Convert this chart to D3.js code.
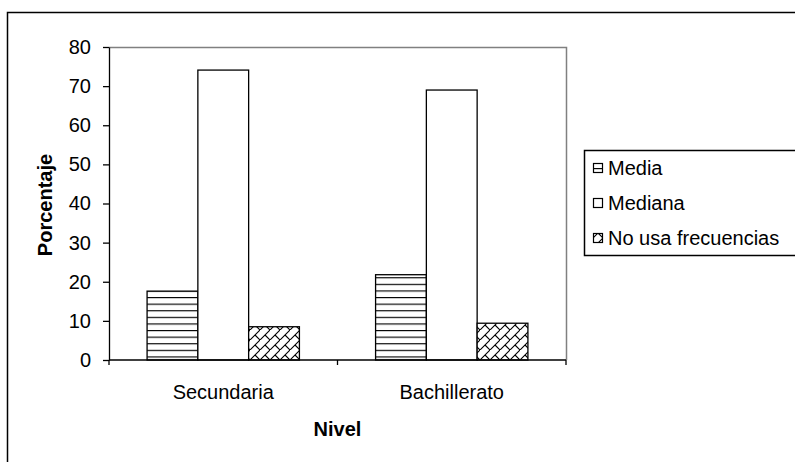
<!DOCTYPE html>
<html>
<head>
<meta charset="utf-8">
<script src="https://cdnjs.cloudflare.com/ajax/libs/d3/7.8.5/d3.min.js"></script>
<style>
  body { margin: 0; background: #fff; }
  svg text { font-family: "Liberation Sans", Arial, sans-serif; fill: #000; }
</style>
</head>
<body>
<svg id="chart" width="795" height="462"></svg>
<script>
let categories = ["Secundaria", "Bachillerato"];
let seriesNames = ["Media", "Mediana", "No usa frecuencias"];
let mediaValues = [17.6, 21.8];
let medianaValues = [74.1, 69.0];
let noUsaValues = [8.5, 9.4];
let yTicks = [0, 10, 20, 30, 40, 50, 60, 70, 80];

let seriesValues = [mediaValues, medianaValues, noUsaValues];
let fills = ["url(#horiz)", "#fff", "url(#brick)"];

let plot = { left: 109, right: 566, top: 47, bottom: 360 };
let fontSize = 20;

let svg = d3.select("#chart");

// patterns
let defs = svg.append("defs");
let horiz = defs.append("pattern")
    .attr("id", "horiz")
    .attr("patternUnits", "userSpaceOnUse")
    .attr("width", 8).attr("height", 6.6);
horiz.append("rect").attr("width", 8).attr("height", 6.6).attr("fill", "#fff");
horiz.append("line").attr("x1", 0).attr("x2", 8).attr("y1", 0.5).attr("y2", 0.5)
    .attr("stroke", "#000").attr("stroke-width", 1.3);

let brick = defs.append("pattern")
    .attr("id", "brick")
    .attr("patternUnits", "userSpaceOnUse")
    .attr("width", 10).attr("height", 10);
brick.append("rect").attr("width", 10).attr("height", 10).attr("fill", "#fff");
brick.append("path").attr("d", "M-1,11L11,-1M5,5L10,10")
    .attr("stroke", "#000").attr("stroke-width", 1.1).attr("fill", "none");

// outer chart border (clipped on right and bottom)
svg.append("rect")
    .attr("x", 7.5).attr("y", 12.5)
    .attr("width", 800).attr("height", 470)
    .attr("fill", "none").attr("stroke", "#000").attr("stroke-width", 1.5);

let y = d3.scaleLinear().domain([0, 80]).range([plot.bottom, plot.top]);
let x0 = d3.scaleBand().domain(categories).range([plot.left, plot.right]);
let x1 = d3.scaleBand().domain(seriesNames).range([0, x0.bandwidth()])
    .paddingInner(0).paddingOuter(0.75);

// plot area frame (gray top/right)
svg.append("path")
    .attr("d", `M${plot.left},${plot.top + 0.5}H${plot.right + 0.5}V${plot.bottom}`)
    .attr("fill", "none").attr("stroke", "#808080").attr("stroke-width", 1.5);

// bars
categories.forEach(function(cat, i) {
    svg.append("g")
        .selectAll("rect")
        .data(seriesNames)
        .enter()
        .append("rect")
        .attr("x", d => x0(cat) + x1(d))
        .attr("y", (d, j) => y(seriesValues[j][i]))
        .attr("width", x1.bandwidth())
        .attr("height", (d, j) => plot.bottom - y(seriesValues[j][i]))
        .attr("fill", (d, j) => fills[j])
        .attr("stroke", "#000")
        .attr("stroke-width", 1.3);
});

// y axis
let yAxis = d3.axisLeft(y).tickValues(yTicks).tickSize(6).tickSizeOuter(0);
let yg = svg.append("g")
    .attr("transform", "translate(" + plot.left + ",0)")
    .call(yAxis);
yg.select(".domain").attr("stroke", "#000").attr("stroke-width", 1.3);
yg.selectAll(".tick line").attr("stroke", "#000").attr("stroke-width", 1.3);
yg.selectAll(".tick text")
    .attr("x", -18)
    .attr("font-size", fontSize)
    .attr("font-family", "Liberation Sans, Arial, sans-serif");

// x axis line + boundary ticks
svg.append("line")
    .attr("x1", plot.left).attr("x2", plot.right)
    .attr("y1", plot.bottom).attr("y2", plot.bottom)
    .attr("stroke", "#000").attr("stroke-width", 1.3);
let boundaries = categories.map(c => x0(c)).concat([plot.right]);
svg.selectAll(".xtick")
    .data(boundaries)
    .enter()
    .append("line")
    .attr("class", "xtick")
    .attr("x1", d => d).attr("x2", d => d)
    .attr("y1", plot.bottom).attr("y2", plot.bottom + 5)
    .attr("stroke", "#000").attr("stroke-width", 1.3);
svg.selectAll(".xlabel")
    .data(categories)
    .enter()
    .append("text")
    .attr("class", "xlabel")
    .attr("x", d => x0(d) + x0.bandwidth() / 2)
    .attr("y", 399)
    .attr("text-anchor", "middle")
    .attr("font-size", fontSize)
    .text(d => d);

// axis titles
svg.append("text")
    .attr("transform", "translate(52,205) rotate(-90)")
    .attr("text-anchor", "middle")
    .attr("font-size", fontSize)
    .attr("font-weight", "bold")
    .text("Porcentaje");
svg.append("text")
    .attr("x", (plot.left + plot.right) / 2)
    .attr("y", 436)
    .attr("text-anchor", "middle")
    .attr("font-size", fontSize)
    .attr("font-weight", "bold")
    .text("Nivel");

// legend
svg.append("rect")
    .attr("x", 584.5).attr("y", 150.5)
    .attr("width", 230).attr("height", 105)
    .attr("fill", "#fff").attr("stroke", "#000").attr("stroke-width", 1.5);
let legendY = d3.scalePoint().domain(seriesNames).range([168, 238]);
let items = svg.selectAll(".legend")
    .data(seriesNames)
    .enter()
    .append("g")
    .attr("class", "legend")
    .attr("transform", d => "translate(593," + legendY(d) + ")");
items.append("rect")
    .attr("x", 0.5).attr("y", -4.5)
    .attr("width", 9).attr("height", 9)
    .attr("fill", (d, j) => fills[j])
    .attr("stroke", "#000").attr("stroke-width", 1.2);
items.append("text")
    .attr("x", 15)
    .attr("y", 7)
    .attr("font-size", fontSize)
    .text(d => d);
</script>
</body>
</html>
